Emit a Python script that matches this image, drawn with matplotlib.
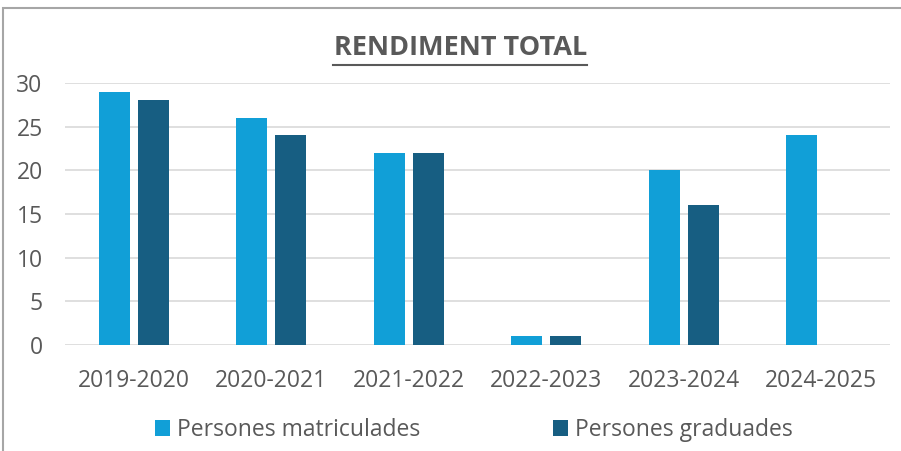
import numpy as np
import matplotlib
matplotlib.use('Agg')
from matplotlib import pyplot as plt
from matplotlib.patches import Rectangle

years = ['2019-2020', '2020-2021', '2021-2022', '2022-2023', '2023-2024', '2024-2025']
matriculades = [29, 26, 22, 1, 20, 24]
graduades = [28, 24, 22, 1, 16, np.nan]

color_mat = '#119FD7'
color_grad = '#175E82'
text_color = '#595959'

plt.rcParams['font.family'] = ['Open Sans', 'DejaVu Sans']

fig = plt.figure(figsize=(9.01, 4.51), dpi=100)
ax = fig.add_axes([0.072, 0.235, 0.916, 0.581])

x = np.arange(len(years))
width = 0.226
ax.bar(x - 0.142, matriculades, width, color=color_mat, label='Persones matriculades', zorder=3)
ax.bar(x + 0.142, graduades, width, color=color_grad, label='Persones graduades', zorder=3)

ax.set_xlim(-0.5, len(years) - 0.5)
ax.set_ylim(0, 30)
ax.set_yticks(np.arange(0, 31, 5))
ax.set_xticks(x)
ax.set_xticklabels(years)
ax.grid(axis='y', color='#D9D9D9', linewidth=1.2, zorder=0)
for s in ax.spines.values():
    s.set_visible(False)
ax.tick_params(length=0, labelsize=16.5, colors=text_color)
ax.tick_params(axis='x', pad=17)
ax.tick_params(axis='y', pad=16)

fig.text(0.511, 0.893, 'RENDIMENT TOTAL', ha='center', va='center',
         fontsize=19.5, fontweight='bold', color=text_color)
fig.add_artist(plt.Line2D([333 / 901, 587 / 901], [1 - 65 / 451, 1 - 65 / 451],
                          color=text_color, linewidth=1.5))

fig.legend(loc='center', bbox_to_anchor=(0.526, 1 - 430 / 451), ncol=2,
           frameon=False, fontsize=16.5, labelcolor=text_color,
           handlelength=0.65, handleheight=0.65, handletextpad=0.3,
           columnspacing=5.8)

fig.add_artist(Rectangle((3 / 901, -0.1), 1.1, 1.1 - 8 / 451, transform=fig.transFigure,
                         fill=False, edgecolor='#A6A6A6', linewidth=1.5))

fig.savefig('out.png', dpi=100)
